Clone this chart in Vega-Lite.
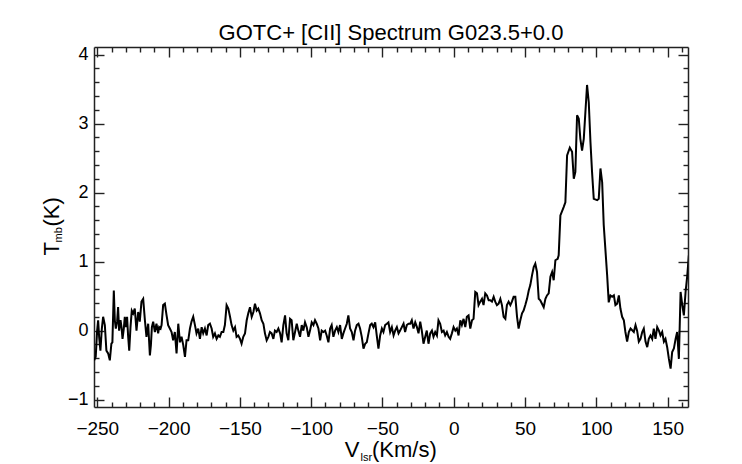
{
  "$schema": "https://vega.github.io/schema/vega-lite/v6.json",
  "width": 594,
  "height": 360,
  "autosize": "none",
  "padding": {"left": 94, "top": 47, "right": 54, "bottom": 57},
  "title": {
    "text": "GOTC+ [CII] Spectrum G023.5+0.0",
    "fontSize": 22,
    "fontWeight": "normal",
    "font": "Liberation Sans",
    "color": "#000",
    "baseline": "alphabetic",
    "offset": 7,
    "dy": 23
  },
  "data": {
    "values": [
      {"v": -252.2, "t": -0.43}, {"v": -251.1, "t": -0.38}, {"v": -250.1, "t": 0.0}, {"v": -249.4, "t": 0.15},
      {"v": -248.7, "t": -0.09}, {"v": -247.8, "t": -0.29}, {"v": -246.8, "t": 0.03}, {"v": -245.9, "t": 0.2},
      {"v": -244.7, "t": 0.08}, {"v": -243.6, "t": -0.29}, {"v": -242.4, "t": -0.33}, {"v": -241.2, "t": -0.43},
      {"v": -240.1, "t": -0.19}, {"v": -239.4, "t": -0.17}, {"v": -238.4, "t": 0.58}, {"v": -237.7, "t": 0.15},
      {"v": -237.0, "t": 0.03}, {"v": -236.1, "t": 0.13}, {"v": -235.4, "t": 0.34}, {"v": -234.7, "t": 0.0},
      {"v": -233.7, "t": 0.15}, {"v": -233.0, "t": 0.05}, {"v": -232.3, "t": -0.12}, {"v": -231.4, "t": 0.03},
      {"v": -230.7, "t": 0.2}, {"v": -230.0, "t": 0.05}, {"v": -229.1, "t": 0.2}, {"v": -228.4, "t": -0.07},
      {"v": -227.6, "t": -0.29}, {"v": -226.7, "t": 0.05}, {"v": -225.8, "t": 0.29}, {"v": -224.8, "t": 0.25},
      {"v": -223.7, "t": 0.32}, {"v": -222.5, "t": 0.0}, {"v": -221.3, "t": 0.27}, {"v": -220.2, "t": 0.13},
      {"v": -219.0, "t": 0.42}, {"v": -217.8, "t": 0.46}, {"v": -216.6, "t": 0.15}, {"v": -215.5, "t": -0.09},
      {"v": -214.3, "t": 0.1}, {"v": -213.1, "t": -0.36}, {"v": -212.4, "t": -0.21}, {"v": -211.7, "t": 0.05},
      {"v": -210.8, "t": 0.13}, {"v": -209.6, "t": -0.02}, {"v": -208.5, "t": 0.1}, {"v": -207.3, "t": -0.04},
      {"v": -206.6, "t": 0.05}, {"v": -205.6, "t": 0.03}, {"v": -204.9, "t": 0.08}, {"v": -203.8, "t": 0.37},
      {"v": -202.6, "t": 0.39}, {"v": -201.4, "t": 0.22}, {"v": -200.3, "t": 0.08}, {"v": -199.1, "t": 0.03},
      {"v": -197.9, "t": -0.02}, {"v": -196.8, "t": -0.14}, {"v": -195.6, "t": -0.02}, {"v": -194.4, "t": -0.33},
      {"v": -193.2, "t": 0.1}, {"v": -192.0, "t": -0.17}, {"v": -190.9, "t": -0.09}, {"v": -189.7, "t": -0.21},
      {"v": -188.5, "t": -0.38}, {"v": -187.4, "t": -0.14}, {"v": -186.2, "t": -0.14}, {"v": -185.0, "t": 0.03},
      {"v": -183.9, "t": 0.13}, {"v": -182.7, "t": 0.2}, {"v": -181.5, "t": 0.08}, {"v": -180.4, "t": -0.04},
      {"v": -179.2, "t": 0.03}, {"v": -178.0, "t": -0.12}, {"v": -176.8, "t": 0.05}, {"v": -175.7, "t": -0.04},
      {"v": -174.5, "t": 0.03}, {"v": -173.3, "t": -0.07}, {"v": -172.2, "t": 0.08}, {"v": -171.0, "t": 0.1},
      {"v": -169.8, "t": 0.03}, {"v": -168.7, "t": -0.09}, {"v": -167.5, "t": -0.04}, {"v": -166.3, "t": -0.12},
      {"v": -165.1, "t": -0.07}, {"v": -164.0, "t": -0.09}, {"v": -162.8, "t": -0.02}, {"v": -161.6, "t": -0.02},
      {"v": -160.5, "t": 0.08}, {"v": -159.3, "t": 0.37}, {"v": -158.1, "t": 0.32}, {"v": -156.9, "t": 0.2},
      {"v": -155.8, "t": 0.08}, {"v": -154.6, "t": 0.0}, {"v": -153.4, "t": 0.05}, {"v": -152.3, "t": -0.09},
      {"v": -151.1, "t": -0.07}, {"v": -149.9, "t": -0.12}, {"v": -148.8, "t": -0.19}, {"v": -147.6, "t": -0.09},
      {"v": -146.4, "t": -0.04}, {"v": -145.2, "t": 0.15}, {"v": -144.1, "t": 0.25}, {"v": -142.9, "t": 0.34},
      {"v": -141.7, "t": 0.2}, {"v": -140.5, "t": 0.27},
      {"v": -139.4, "t": 0.39}, {"v": -138.2, "t": 0.29}, {"v": -137.1, "t": 0.32}, {"v": -135.9, "t": 0.25},
      {"v": -134.7, "t": 0.15}, {"v": -133.5, "t": 0.1}, {"v": -132.4, "t": -0.04}, {"v": -131.2, "t": -0.14},
      {"v": -130.0, "t": -0.09}, {"v": -128.9, "t": -0.02}, {"v": -127.7, "t": -0.04}, {"v": -126.5, "t": -0.12},
      {"v": -125.4, "t": 0.0}, {"v": -124.2, "t": -0.02}, {"v": -123.0, "t": 0.03}, {"v": -121.8, "t": -0.04},
      {"v": -120.7, "t": -0.17}, {"v": -119.5, "t": 0.08}, {"v": -118.3, "t": 0.22}, {"v": -117.2, "t": -0.04},
      {"v": -116.0, "t": -0.14}, {"v": -114.8, "t": 0.17}, {"v": -113.7, "t": 0.15}, {"v": -112.5, "t": -0.14},
      {"v": -111.3, "t": -0.02}, {"v": -110.1, "t": 0.1}, {"v": -109.0, "t": 0.0}, {"v": -107.8, "t": -0.09},
      {"v": -106.6, "t": 0.08}, {"v": -105.5, "t": 0.0}, {"v": -104.3, "t": 0.12}, {"v": -103.1, "t": 0.05},
      {"v": -101.9, "t": -0.09}, {"v": -100.8, "t": 0.0}, {"v": -99.6, "t": 0.12}, {"v": -98.4, "t": 0.08},
      {"v": -97.3, "t": 0.15}, {"v": -96.1, "t": 0.1}, {"v": -94.9, "t": 0.03}, {"v": -93.7, "t": -0.14},
      {"v": -92.6, "t": 0.0}, {"v": -91.4, "t": -0.02}, {"v": -90.2, "t": 0.0}, {"v": -89.1, "t": -0.07},
      {"v": -87.9, "t": -0.17}, {"v": -86.7, "t": 0.03}, {"v": -85.6, "t": 0.08}, {"v": -84.4, "t": -0.09},
      {"v": -83.2, "t": 0.0}, {"v": -82.0, "t": 0.05}, {"v": -80.9, "t": -0.02}, {"v": -79.7, "t": 0.08},
      {"v": -78.5, "t": -0.12}, {"v": -77.4, "t": -0.04}, {"v": -76.2, "t": 0.03}, {"v": -75.0, "t": 0.1},
      {"v": -73.9, "t": 0.22}, {"v": -72.7, "t": 0.03}, {"v": -71.5, "t": -0.02}, {"v": -70.3, "t": -0.14},
      {"v": -69.2, "t": 0.0}, {"v": -68.0, "t": 0.08}, {"v": -66.8, "t": 0.1}, {"v": -65.7, "t": 0.03},
      {"v": -64.5, "t": -0.09}, {"v": -63.3, "t": -0.26}, {"v": -62.1, "t": -0.19}, {"v": -61.0, "t": -0.17},
      {"v": -59.8, "t": -0.04}, {"v": -58.6, "t": 0.08}, {"v": -57.5, "t": 0.1}, {"v": -56.3, "t": 0.05},
      {"v": -55.1, "t": 0.12}, {"v": -54.0, "t": -0.07}, {"v": -52.8, "t": -0.26}, {"v": -51.6, "t": -0.07},
      {"v": -50.4, "t": 0.03}, {"v": -49.3, "t": -0.02}, {"v": -48.1, "t": 0.08}, {"v": -46.9, "t": 0.1},
      {"v": -45.8, "t": 0.12}, {"v": -44.6, "t": -0.02}, {"v": -43.4, "t": 0.05}, {"v": -42.2, "t": -0.07},
      {"v": -41.1, "t": 0.0}, {"v": -39.9, "t": 0.05}, {"v": -38.7, "t": -0.04}, {"v": -37.6, "t": 0.0},
      {"v": -36.4, "t": 0.05}, {"v": -35.2, "t": 0.1}, {"v": -34.1, "t": -0.02}, {"v": -32.9, "t": 0.08},
      {"v": -31.7, "t": 0.1}, {"v": -30.5, "t": 0.1}, {"v": -29.4, "t": 0.15}, {"v": -28.2, "t": 0.03},
      {"v": -27.0, "t": 0.12}, {"v": -25.8, "t": 0.05}, {"v": -24.7, "t": -0.04},
      {"v": -23.5, "t": 0.13}, {"v": -22.4, "t": 0.0}, {"v": -21.2, "t": -0.19}, {"v": -20.0, "t": -0.09},
      {"v": -18.9, "t": 0.0}, {"v": -17.7, "t": -0.19}, {"v": -16.5, "t": -0.04}, {"v": -15.3, "t": 0.0},
      {"v": -14.2, "t": -0.09}, {"v": -13.0, "t": -0.02}, {"v": -11.8, "t": -0.07}, {"v": -10.7, "t": 0.15},
      {"v": -9.5, "t": 0.1}, {"v": -8.3, "t": -0.02}, {"v": -7.1, "t": 0.0}, {"v": -6.0, "t": -0.07},
      {"v": -4.8, "t": -0.02}, {"v": -3.6, "t": -0.09}, {"v": -2.5, "t": -0.12}, {"v": -1.3, "t": -0.04},
      {"v": -0.1, "t": 0.05}, {"v": 1.1, "t": 0.0}, {"v": 2.2, "t": 0.03}, {"v": 3.4, "t": -0.07},
      {"v": 4.6, "t": 0.15}, {"v": 5.7, "t": 0.08}, {"v": 6.9, "t": 0.17}, {"v": 8.1, "t": 0.05},
      {"v": 9.2, "t": 0.2}, {"v": 10.4, "t": 0.22}, {"v": 11.6, "t": 0.03}, {"v": 12.8, "t": 0.15},
      {"v": 13.9, "t": 0.17}, {"v": 15.1, "t": 0.56}, {"v": 16.3, "t": 0.54}, {"v": 17.4, "t": 0.37},
      {"v": 18.6, "t": 0.42}, {"v": 19.8, "t": 0.46}, {"v": 20.9, "t": 0.37}, {"v": 22.1, "t": 0.54},
      {"v": 23.3, "t": 0.51}, {"v": 24.5, "t": 0.44}, {"v": 25.6, "t": 0.44}, {"v": 26.8, "t": 0.42},
      {"v": 28.0, "t": 0.49}, {"v": 29.1, "t": 0.42}, {"v": 30.3, "t": 0.37}, {"v": 31.5, "t": 0.39},
      {"v": 32.7, "t": 0.46}, {"v": 33.8, "t": 0.37}, {"v": 35.0, "t": 0.2}, {"v": 36.2, "t": 0.17},
      {"v": 37.3, "t": 0.37}, {"v": 38.5, "t": 0.42}, {"v": 39.7, "t": 0.37}, {"v": 40.8, "t": 0.42},
      {"v": 42.0, "t": 0.49}, {"v": 43.2, "t": 0.49}, {"v": 44.4, "t": 0.2}, {"v": 45.5, "t": 0.03},
      {"v": 46.7, "t": 0.15}, {"v": 47.9, "t": 0.25}, {"v": 49.0, "t": 0.29}, {"v": 50.2, "t": 0.37},
      {"v": 51.4, "t": 0.46}, {"v": 52.6, "t": 0.58}, {"v": 53.7, "t": 0.66}, {"v": 54.9, "t": 0.8},
      {"v": 56.1, "t": 0.92}, {"v": 57.2, "t": 0.97}, {"v": 58.4, "t": 0.85}, {"v": 59.6, "t": 0.46},
      {"v": 60.7, "t": 0.44}, {"v": 61.9, "t": 0.39}, {"v": 63.1, "t": 0.34}, {"v": 64.3, "t": 0.46},
      {"v": 65.4, "t": 0.51}, {"v": 66.6, "t": 0.54}, {"v": 67.8, "t": 0.78}, {"v": 69.0, "t": 0.85},
      {"v": 70.1, "t": 0.73}, {"v": 71.3, "t": 1.02},
      {"v": 72.9, "t": 1.04}, {"v": 73.6, "t": 1.09}, {"v": 74.8, "t": 1.67}, {"v": 77.1, "t": 1.79},
      {"v": 78.3, "t": 1.86}, {"v": 79.5, "t": 2.54}, {"v": 81.4, "t": 2.65}, {"v": 83.0, "t": 2.59},
      {"v": 84.2, "t": 2.2}, {"v": 85.3, "t": 2.3}, {"v": 86.5, "t": 3.12}, {"v": 87.7, "t": 3.07},
      {"v": 88.8, "t": 2.78}, {"v": 90.0, "t": 2.61}, {"v": 91.2, "t": 2.78}, {"v": 93.5, "t": 3.56},
      {"v": 94.7, "t": 3.31}, {"v": 95.9, "t": 2.73}, {"v": 97.0, "t": 2.3}, {"v": 98.2, "t": 1.91},
      {"v": 100.6, "t": 1.89}, {"v": 101.7, "t": 1.91}, {"v": 102.9, "t": 2.35}, {"v": 104.1, "t": 2.15},
      {"v": 105.2, "t": 1.53}, {"v": 107.6, "t": 0.8}, {"v": 108.7, "t": 0.41}, {"v": 109.9, "t": 0.51},
      {"v": 111.1, "t": 0.49}, {"v": 112.3, "t": 0.51}, {"v": 113.4, "t": 0.37}, {"v": 114.6, "t": 0.39},
      {"v": 115.8, "t": 0.51}, {"v": 116.9, "t": 0.32}, {"v": 118.1, "t": 0.2}, {"v": 119.3, "t": 0.15},
      {"v": 120.4, "t": -0.02}, {"v": 121.6, "t": -0.16}, {"v": 122.8, "t": -0.02}, {"v": 124.0, "t": 0.03},
      {"v": 126.3, "t": -0.02}, {"v": 127.5, "t": 0.08}, {"v": 128.6, "t": 0.0}, {"v": 129.8, "t": -0.16},
      {"v": 131.0, "t": -0.12}, {"v": 132.2, "t": -0.02}, {"v": 133.3, "t": 0.03}, {"v": 134.5, "t": -0.16},
      {"v": 135.7, "t": -0.24}, {"v": 136.8, "t": -0.12}, {"v": 138.0, "t": -0.07}, {"v": 139.2, "t": -0.12},
      {"v": 140.3, "t": 0.03}, {"v": 141.5, "t": -0.12}, {"v": 142.7, "t": 0.05}, {"v": 143.9, "t": 0.0},
      {"v": 145.0, "t": -0.07}, {"v": 146.2, "t": -0.02}, {"v": 147.4, "t": -0.16}, {"v": 148.5, "t": -0.12},
      {"v": 149.7, "t": -0.24}, {"v": 150.9, "t": -0.41}, {"v": 152.1, "t": -0.55}, {"v": 153.2, "t": -0.31},
      {"v": 154.4, "t": -0.26}, {"v": 155.6, "t": -0.12}, {"v": 156.7, "t": -0.02}, {"v": 157.9, "t": -0.41},
      {"v": 159.1, "t": 0.56}, {"v": 160.3, "t": 0.37}, {"v": 161.4, "t": 0.22}, {"v": 162.6, "t": 0.56},
      {"v": 163.8, "t": 0.8}, {"v": 164.9, "t": 1.09}
    ]
  },
  "resolve": {"axis": {"x": "independent", "y": "independent"}},
  "layer": [
    {
      "mark": {"type": "line", "color": "#000", "strokeWidth": 2, "clip": true},
      "encoding": {
        "x": {
          "field": "v", "type": "quantitative",
          "scale": {"domain": [-252.3, 164.3], "nice": false, "zero": false},
          "axis": {
            "orient": "bottom",
            "values": [-250, -200, -150, -100, -50, 0, 50, 100, 150],
            "tickSize": -10,
            "labelFontSize": 19,
            "labelPadding": 22,
            "labelFlush": false,
            "labelOverlap": false,
            "labelBound": false,
            "title": "V",
            "titleFontSize": 22,
            "titleX": 265,
            "titleY": 49,
            "titleAlign": "right",
            "titleBaseline": "alphabetic",
            "titleAngle": 0
          }
        },
        "y": {
          "field": "t", "type": "quantitative",
          "scale": {"domain": [-1.107, 4.11], "nice": false, "zero": false},
          "axis": {
            "orient": "left",
            "values": [-1, 0, 1, 2, 3, 4],
            "format": "d",
            "tickSize": -10,
            "labelFontSize": 18,
            "labelPadding": 16,
            "labelFlush": false,
            "labelOverlap": false,
            "labelBound": false,
            "title": "T",
            "titleFontSize": 22,
            "titleX": -35.7,
            "titleY": 208,
            "titleAngle": -90,
            "titleAlign": "left",
            "titleBaseline": "alphabetic"
          }
        }
      }
    },
    {
      "mark": {"type": "line", "opacity": 0},
      "encoding": {
        "x": {
          "field": "v", "type": "quantitative",
          "scale": {"domain": [-252.3, 164.3], "nice": false, "zero": false},
          "axis": {
            "orient": "bottom",
            "values": [-240,-230,-220,-210,-190,-180,-170,-160,-140,-130,-120,-110,-90,-80,-70,-60,-40,-30,-20,-10,10,20,30,40,60,70,80,90,110,120,130,140,160],
            "tickSize": -5, "labels": false, "domain": false, "title": null
          }
        },
        "y": {
          "field": "t", "type": "quantitative",
          "scale": {"domain": [-1.107, 4.11], "nice": false, "zero": false},
          "axis": {
            "orient": "left",
            "values": [-0.8,-0.6,-0.4,-0.2,0.2,0.4,0.6,0.8,1.2,1.4,1.6,1.8,2.2,2.4,2.6,2.8,3.2,3.4,3.6,3.8],
            "tickSize": -5, "labels": false, "domain": false, "title": null
          }
        }
      }
    },
    {
      "mark": {"type": "line", "opacity": 0},
      "encoding": {
        "x": {
          "field": "v", "type": "quantitative",
          "scale": {"domain": [-252.3, 164.3], "nice": false, "zero": false},
          "axis": {
            "orient": "top",
            "values": [-250, -200, -150, -100, -50, 0, 50, 100, 150],
            "tickSize": -10, "labels": false, "title": null
          }
        },
        "y": {
          "field": "t", "type": "quantitative",
          "scale": {"domain": [-1.107, 4.11], "nice": false, "zero": false},
          "axis": {
            "orient": "right",
            "values": [-1, 0, 1, 2, 3, 4],
            "tickSize": -10, "labels": false, "title": null
          }
        }
      }
    },
    {
      "mark": {"type": "line", "opacity": 0},
      "encoding": {
        "x": {
          "field": "v", "type": "quantitative",
          "scale": {"domain": [-252.3, 164.3], "nice": false, "zero": false},
          "axis": {
            "orient": "top",
            "values": [-240,-230,-220,-210,-190,-180,-170,-160,-140,-130,-120,-110,-90,-80,-70,-60,-40,-30,-20,-10,10,20,30,40,60,70,80,90,110,120,130,140,160],
            "tickSize": -5, "labels": false, "domain": false, "title": null
          }
        },
        "y": {
          "field": "t", "type": "quantitative",
          "scale": {"domain": [-1.107, 4.11], "nice": false, "zero": false},
          "axis": {
            "orient": "right",
            "values": [-0.8,-0.6,-0.4,-0.2,0.2,0.4,0.6,0.8,1.2,1.4,1.6,1.8,2.2,2.4,2.6,2.8,3.2,3.4,3.6,3.8],
            "tickSize": -5, "labels": false, "domain": false, "title": null
          }
        }
      }
    },
    {
      "mark": {"type": "line", "opacity": 0},
      "encoding": {
        "x": {
          "field": "v", "type": "quantitative",
          "scale": {"domain": [-252.3, 164.3], "nice": false, "zero": false},
          "axis": {
            "orient": "bottom", "ticks": false, "labels": false, "domain": false,
            "title": "lsr", "titleFontSize": 11, "titleX": 266, "titleY": 53,
            "titleAlign": "left", "titleBaseline": "alphabetic", "titleAngle": 0
          }
        },
        "y": {
          "field": "t", "type": "quantitative",
          "scale": {"domain": [-1.107, 4.11], "nice": false, "zero": false},
          "axis": {
            "orient": "left", "ticks": false, "labels": false, "domain": false,
            "title": "mb", "titleFontSize": 11, "titleX": -32.5, "titleY": 195,
            "titleAngle": -90, "titleAlign": "left", "titleBaseline": "alphabetic"
          }
        }
      }
    },
    {
      "mark": {"type": "line", "opacity": 0},
      "encoding": {
        "x": {
          "field": "v", "type": "quantitative",
          "scale": {"domain": [-252.3, 164.3], "nice": false, "zero": false},
          "axis": {
            "orient": "bottom", "ticks": false, "labels": false, "domain": false,
            "title": "(Km/s)", "titleFontSize": 22, "titleX": 277.5, "titleY": 49,
            "titleAlign": "left", "titleBaseline": "alphabetic", "titleAngle": 0
          }
        },
        "y": {
          "field": "t", "type": "quantitative",
          "scale": {"domain": [-1.107, 4.11], "nice": false, "zero": false},
          "axis": {
            "orient": "left", "ticks": false, "labels": false, "domain": false,
            "title": "(K)", "titleFontSize": 22, "titleX": -35.7, "titleY": 179,
            "titleAngle": -90, "titleAlign": "left", "titleBaseline": "alphabetic"
          }
        }
      }
    }
  ],
  "config": {
    "font": "Liberation Sans",
    "view": {"stroke": null},
    "axis": {
      "grid": false,
      "domainColor": "#222",
      "domainWidth": 1.5,
      "tickColor": "#222",
      "tickWidth": 1.4,
      "labelColor": "#000",
      "labelFont": "Liberation Sans",
      "titleColor": "#000",
      "titleFont": "Liberation Sans",
      "titleFontWeight": "normal"
    }
  }
}
